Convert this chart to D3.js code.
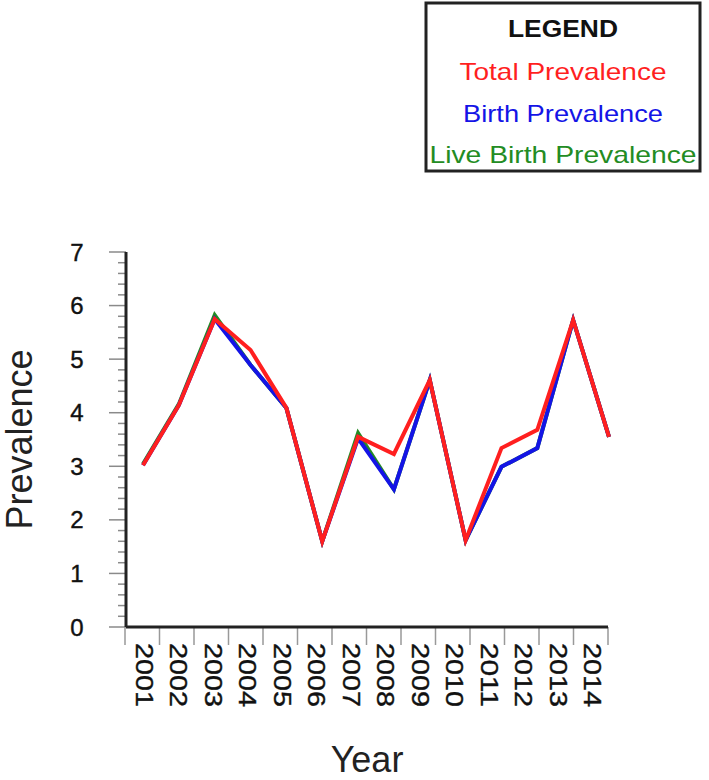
<!DOCTYPE html>
<html>
<head>
<meta charset="utf-8">
<script src="https://cdn.jsdelivr.net/npm/d3@7"></script>
<style>
  body { margin: 0; background: #fff; }
  text { font-family: "Liberation Sans", Arial, sans-serif; }
</style>
</head>
<body>
<svg id="chart"></svg>
<script>
const years = ["2001", "2002", "2003", "2004", "2005", "2006", "2007", "2008", "2009", "2010", "2011", "2012", "2013", "2014"];
const totalPrev = [3.02, 4.14, 5.75, 5.17, 4.09, 1.6, 3.55, 3.23, 4.61, 1.62, 3.34, 3.68, 5.73, 3.55];
const birthPrev = [3.02, 4.14, 5.75, 4.89, 4.09, 1.6, 3.52, 2.57, 4.61, 1.62, 2.99, 3.34, 5.73, 3.55];
const liveBirthPrev = [3.04, 4.16, 5.82, 4.89, 4.09, 1.6, 3.62, 2.57, 4.61, 1.62, 2.99, 3.34, 5.73, 3.55];
const yTicks = [0, 1, 2, 3, 4, 5, 6, 7];
const legendItems = ["Total Prevalence", "Birth Prevalence", "Live Birth Prevalence"];

const colors = { total: "#ff1f1f", birth: "#1414e6", live: "#238c23" };

const W = 709, H = 780;
const svg = d3.select("#chart").attr("width", W).attr("height", H);

// plot area in page coordinates
const plotL = 126, plotR = 608, plotT = 252, plotB = 627;

const yScale = d3.scaleLinear().domain([0, 7]).range([plotB, plotT]);
const xBand = d3.scaleBand().domain(years).range([plotL - 1, plotR]);
const xPoint = d3.scalePoint().domain(years).range([143, 609]);

// y axis minor + major ticks
const minor = d3.range(0, 7.01, 0.2);
svg.append("g").selectAll("line")
  .data(minor)
  .enter().append("line")
  .attr("x1", d => Math.abs(d - Math.round(d)) < 1e-6 ? plotL - 17 : plotL - 8)
  .attr("x2", plotL)
  .attr("y1", d => yScale(d)).attr("y2", d => yScale(d))
  .attr("stroke", "#8a8a8a").attr("stroke-width", 1.5);

svg.append("g").selectAll("text")
  .data(yTicks)
  .enter().append("text")
  .attr("x", 77)
  .attr("y", d => yScale(d))
  .attr("dy", "0.36em")
  .attr("text-anchor", "middle")
  .attr("font-size", 24)
  .attr("fill", "#111")
  .attr("stroke", "#111").attr("stroke-width", 0.4)
  .text(d => d);

// x ticks at band boundaries
const bounds = years.map(d => xBand(d)).concat([xBand.range()[1]]);
svg.append("g").selectAll("line")
  .data(bounds)
  .enter().append("line")
  .attr("x1", d => d).attr("x2", d => d)
  .attr("y1", plotB).attr("y2", plotB + 18)
  .attr("stroke", "#999").attr("stroke-width", 1.5);

svg.append("g").selectAll("text")
  .data(years)
  .enter().append("text")
  .attr("transform", d => `translate(${xBand(d) + xBand.bandwidth() / 2 + 2},${plotB + 16}) rotate(90)`)
  .attr("dy", "0.36em")
  .attr("font-size", 24)
  .attr("textLength", 64)
  .attr("lengthAdjust", "spacingAndGlyphs")
  .attr("fill", "#111")
  .attr("stroke", "#111").attr("stroke-width", 0.4)
  .text(d => d);

// axis lines
svg.append("line")
  .attr("x1", plotL).attr("x2", plotL).attr("y1", plotT).attr("y2", plotB)
  .attr("stroke", "#222").attr("stroke-width", 3);
svg.append("line")
  .attr("x1", plotL).attr("x2", plotR).attr("y1", plotB).attr("y2", plotB)
  .attr("stroke", "#222").attr("stroke-width", 3);

// series
const line = d3.line().x((d, i) => xPoint(years[i])).y(d => yScale(d));
[[liveBirthPrev, colors.live], [birthPrev, colors.birth], [totalPrev, colors.total]].forEach(([vals, c]) => {
  svg.append("path")
    .datum(vals)
    .attr("d", line)
    .attr("fill", "none")
    .attr("stroke", c)
    .attr("stroke-width", 4)
    .attr("stroke-linejoin", "miter");
});

// axis titles
svg.append("text")
  .attr("x", 367).attr("y", 772)
  .attr("text-anchor", "middle")
  .attr("font-size", 36)
  .attr("fill", "#222")
  .text("Year");

svg.append("text")
  .attr("transform", `translate(32,${(plotT + plotB) / 2}) rotate(-90)`)
  .attr("text-anchor", "middle")
  .attr("font-size", 36)
  .attr("fill", "#222")
  .text("Prevalence");

// legend
const lg = svg.append("g");
lg.append("rect")
  .attr("x", 426).attr("y", 3).attr("width", 274).attr("height", 168)
  .attr("fill", "#fff").attr("stroke", "#222").attr("stroke-width", 3);
lg.append("text")
  .attr("x", 563).attr("y", 37)
  .attr("text-anchor", "middle")
  .attr("font-size", 24).attr("font-weight", "bold")
  .attr("textLength", 110)
  .attr("lengthAdjust", "spacingAndGlyphs")
  .attr("fill", "#111")
  .text("LEGEND");
const legendColors = [colors.total, colors.birth, colors.live];
const legendWidths = [207, 200, 267];
lg.selectAll("text.item")
  .data(legendItems)
  .enter().append("text")
  .attr("class", "item")
  .attr("x", 563)
  .attr("y", (d, i) => 80 + i * 41.5)
  .attr("text-anchor", "middle")
  .attr("font-size", 24)
  .attr("textLength", (d, i) => legendWidths[i])
  .attr("lengthAdjust", "spacingAndGlyphs")
  .attr("fill", (d, i) => legendColors[i])
  .text(d => d);
</script>
</body>
</html>
